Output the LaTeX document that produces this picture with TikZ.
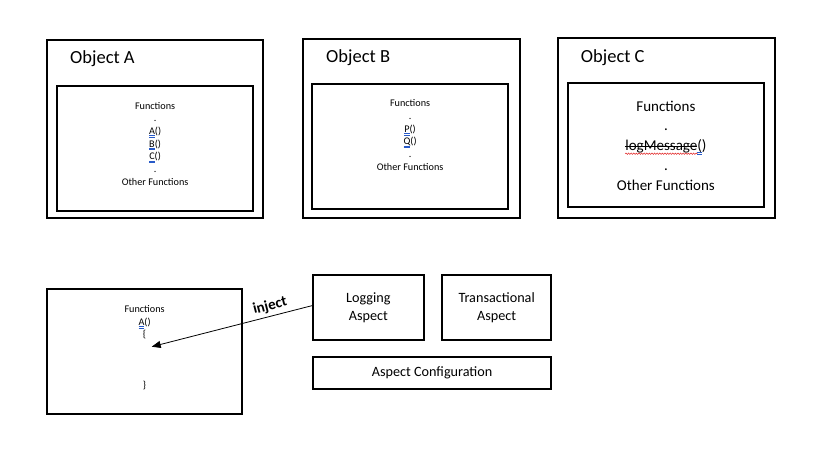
\documentclass[tikz,border=0pt]{standalone}
\usepackage{fontspec}
\setmainfont{Carlito}
\usetikzlibrary{arrows.meta,decorations.pathmorphing}
\definecolor{ulblue}{RGB}{40,90,200}
\definecolor{wavered}{RGB}{225,35,35}
\newsavebox\myulbox
\newcommand\dul[1]{\sbox\myulbox{#1}\rlap{\textcolor{ulblue}{\rule[-0.14em]{\wd\myulbox}{0.45pt}}}\rlap{\textcolor{ulblue}{\rule[-0.28em]{\wd\myulbox}{0.45pt}}}\usebox\myulbox}
\newcommand\strk[1]{\sbox\myulbox{#1}\rlap{\rule[0.27em]{\wd\myulbox}{0.6pt}}\usebox\myulbox}
\tikzset{
  box/.style={draw, line width=2pt, inner sep=0, fill=none},
  title/.style={anchor=base west, inner sep=0, font=\fontsize{18.5}{22}\selectfont},
  smalltext/.style={anchor=north, inner sep=0, align=center, font=\fontsize{10.2}{12.67}\selectfont},
  bigline/.style={anchor=base, inner sep=0, font=\fontsize{15}{19}\selectfont},
  aspect/.style={align=center, inner sep=0, font=\fontsize{14.2}{18}\selectfont},
  wavy/.style={draw=wavered, line width=0.5pt, decorate, decoration={snake, amplitude=0.7pt, segment length=2.6pt}},
  inject/.style={-{Triangle[length=9pt,width=7pt]}, line width=0.8pt},
}
\begin{document}
\begin{tikzpicture}[x=1pt, y=-1pt]
\useasboundingbox (0,0) rectangle (826,448);
% Object A
\node[box, minimum width=215.7pt, minimum height=178.3pt] (Aout) at (154.85,128.65) {};
\node[box, minimum width=195.8pt, minimum height=125pt] (Ain) at (155.1,148.7) {};
\node[title] (Atitle) at (70,63.3) {Object A};
\node[smalltext] (Atext) at (155.1,101.8) {Functions\\.\\\dul{A}()\\\dul{B}()\\\dul{C}()\\.\\Other Functions};
% Object B
\node[box, minimum width=216.7pt, minimum height=179.3pt] (Bout) at (411.15,128.35) {};
\node[box, minimum width=195.8pt, minimum height=125pt] (Bin) at (410.1,146.2) {};
\node[title] (Btitle) at (326,62.5) {Object B};
\node[smalltext] (Btext) at (410.1,99.5) {Functions\\.\\\dul{P}()\\\dul{Q}()\\.\\Other Functions};
% Object C
\node[box, minimum width=217.5pt, minimum height=180pt] (Cout) at (666.55,127.8) {};
\node[box, minimum width=196.2pt, minimum height=124.4pt] (Cin) at (665.9,145) {};
\node[title] (Ctitle) at (580.7,62.5) {Object C};
\node[bigline] (c1) at (665.9,111) {Functions};
\node[bigline] (c2) at (665.9,130.5) {.};
\node[bigline] (c3) at (665.9,150.5) {\strk{logMessage}\dul{(})};
\node[bigline] (c4) at (665.9,170) {.};
\node[bigline] (c5) at (665.9,190) {Other Functions};
\draw[wavy] ([yshift=-3.2pt]c3.base west) -- ([yshift=-3.2pt,xshift=-9pt]c3.base east);
% Bottom-left function box
\node[box, minimum width=194.8pt, minimum height=124.9pt] (F) at (144.6,351.25) {};
\node[smalltext] (Ftext) at (144.6,305.2) {Functions\\\dul{A}()\\\{\\\mbox{}\\\mbox{}\\\mbox{}\\\}};
% Aspects
\node[box, minimum width=111.2pt, minimum height=65.8pt] (Log) at (368.4,307.4) {};
\node[aspect] (Logt) at (368.4,307.4) {Logging\\Aspect};
\node[box, minimum width=109.3pt, minimum height=65.8pt] (Tr) at (496.65,307.4) {};
\node[aspect] (Trt) at (496.65,307.4) {Transactional\\Aspect};
\node[box, minimum width=238.5pt, minimum height=32pt] (Cfg) at (432.05,373) {};
\node[aspect] (Cfgt) at (432.05,373) {Aspect Configuration};
% Inject arrow
\coordinate (tip) at (151.7,346.7);
\draw[inject] ([yshift=1.7pt]Log.west) -- (tip)
  node[pos=0.245, above, sloped, font=\bfseries\fontsize{15}{17}\selectfont] (inj) {inject};
\end{tikzpicture}
\end{document}
